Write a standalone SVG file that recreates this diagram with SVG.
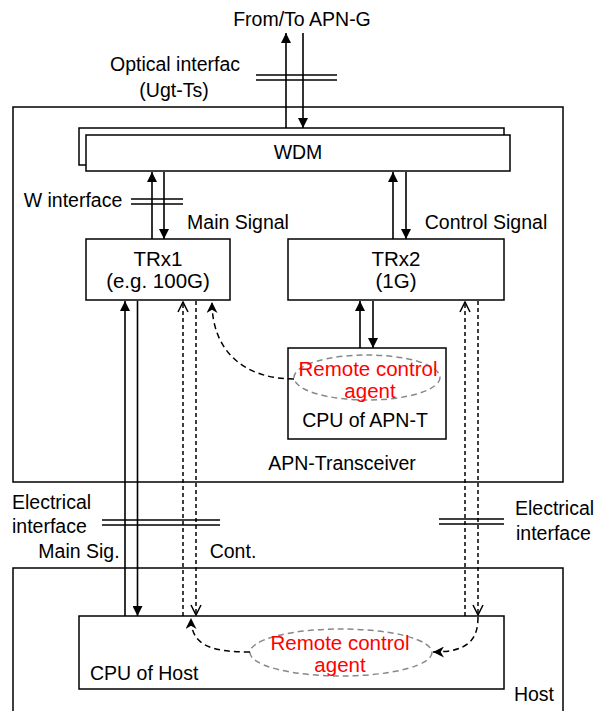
<svg xmlns="http://www.w3.org/2000/svg" width="595" height="711" viewBox="0 0 595 711">
<style>
.box{fill:#fff;stroke:#000;stroke-width:1.5}
.frame{fill:none;stroke:#000;stroke-width:1.5}
.ln{stroke:#000;stroke-width:1.6;fill:none}
.dl{stroke:#000;stroke-width:1.5;fill:none;stroke-dasharray:4,3}
.cv{stroke:#000;stroke-width:1.5;fill:none;stroke-dasharray:6,4}
.el{fill:none;stroke:#888;stroke-width:1.5;stroke-dasharray:6,4}
.if{stroke:#000;stroke-width:1.5}
text{font-family:"Liberation Sans",Arial,sans-serif;font-size:19.5px;fill:#000}
.big{font-size:20.5px}
.red{fill:#f00;font-size:20.5px}
.m{text-anchor:middle}
</style>
<defs>
<marker id="arr" viewBox="0 0 10 10" refX="10" refY="5" markerWidth="10" markerHeight="10" markerUnits="userSpaceOnUse" orient="auto">
<path d="M0,0 L10,5 L0,10 z" fill="#000"/>
</marker>
<marker id="open" viewBox="-1 -1 12 12" refX="10" refY="5" markerWidth="12" markerHeight="12" markerUnits="userSpaceOnUse" orient="auto">
<path d="M0,0 L10,5 L0,10" fill="none" stroke="#000" stroke-width="1.5"/>
</marker>
<marker id="notch" viewBox="0 0 10 10" refX="10" refY="5" markerWidth="11" markerHeight="11" markerUnits="userSpaceOnUse" orient="auto">
<path d="M0,0 L10,5 L0,10 L3,5 z" fill="#000"/>
</marker>
</defs>

<g id="apn-transceiver">
<rect class="frame" x="13" y="107" width="550" height="375"/>
<text class="m" x="342" y="470">APN-Transceiver</text>
</g>
<g id="host">
<rect class="frame" x="13" y="568" width="550" height="200"/>
<text class="m" x="534" y="701">Host</text>
</g>

<g id="wdm">
<rect class="box" x="79" y="128" width="425" height="37"/>
<rect class="box" x="86" y="135" width="424" height="36"/>
<text class="m" x="298" y="159">WDM</text>
</g>

<g id="trx1">
<rect class="box" x="86" y="239" width="144" height="61"/>
<text class="m big" x="158" y="266">TRx1</text>
<text class="m big" x="158" y="288">(e.g. 100G)</text>
</g>

<g id="trx2">
<rect class="box" x="288" y="239" width="216" height="61"/>
<text class="m big" x="396" y="266">TRx2</text>
<text class="m big" x="396" y="288">(1G)</text>
</g>

<g id="cpu-apn-t">
<rect class="box" x="288" y="348" width="158" height="91"/>
<ellipse class="el" cx="367" cy="377.5" rx="73" ry="22.5"/>
<text class="m red" x="368" y="376">Remote control</text>
<text class="m red" x="370" y="398">agent</text>
<text class="m" x="365" y="427">CPU of APN-T</text>
</g>

<g id="cpu-host">
<rect class="box" x="79" y="616" width="425" height="73"/>
<ellipse class="el" cx="341" cy="652.5" rx="91" ry="23.5"/>
<text class="m red" x="340" y="650">Remote control</text>
<text class="m red" x="340" y="672">agent</text>
<text x="90" y="680">CPU of Host</text>
</g>

<g id="connectors">
<line class="ln" x1="286" y1="128" x2="286" y2="33" marker-end="url(#arr)"/>
<line class="ln" x1="303" y1="33" x2="303" y2="128" marker-end="url(#arr)"/>
<line class="ln" x1="152" y1="239" x2="152" y2="172" marker-end="url(#arr)"/>
<line class="ln" x1="164" y1="172" x2="164" y2="239" marker-end="url(#arr)"/>
<line class="ln" x1="393" y1="239" x2="393" y2="172" marker-end="url(#arr)"/>
<line class="ln" x1="406" y1="172" x2="406" y2="239" marker-end="url(#arr)"/>
<line class="ln" x1="360" y1="348" x2="360" y2="301" marker-end="url(#arr)"/>
<line class="ln" x1="373" y1="301" x2="373" y2="348" marker-end="url(#arr)"/>
<line class="ln" x1="125" y1="616" x2="125" y2="301" marker-end="url(#arr)"/>
<line class="ln" x1="137.5" y1="301" x2="137.5" y2="616" marker-end="url(#arr)"/>
<line class="dl" x1="183" y1="616" x2="183" y2="302" marker-end="url(#open)"/>
<line class="dl" x1="196" y1="301" x2="196" y2="615" marker-end="url(#open)"/>
<line class="dl" x1="465" y1="616" x2="465" y2="302" marker-end="url(#open)"/>
<line class="dl" x1="478" y1="301" x2="478" y2="615" marker-end="url(#open)"/>
<path class="cv" d="M294,379 C245,379 212,352 212,302" marker-end="url(#notch)"/>
<path class="cv" d="M250,652 C210,652 191,645 191,618" marker-end="url(#notch)"/>
<path class="cv" d="M478,617 C478,640 468,652 433,652" marker-end="url(#notch)"/>
</g>

<g id="interfaces">
<line class="if" x1="256" y1="75" x2="337" y2="75"/>
<line class="if" x1="256" y1="80" x2="337" y2="80"/>
<line class="if" x1="131" y1="199" x2="183" y2="199"/>
<line class="if" x1="131" y1="204" x2="183" y2="204"/>
<line class="if" x1="102" y1="520" x2="220" y2="520"/>
<line class="if" x1="102" y1="525" x2="220" y2="525"/>
<line class="if" x1="439" y1="519" x2="504" y2="519"/>
<line class="if" x1="439" y1="524" x2="504" y2="524"/>
</g>

<g id="labels">
<text class="m" x="302" y="26">From/To APN-G</text>
<text class="m" x="175" y="71">Optical interfac</text>
<text class="m" x="174" y="97">(Ugt-Ts)</text>
<text class="m" x="73" y="207">W interface</text>
<text class="m" x="238" y="229">Main Signal</text>
<text class="m" x="486" y="229">Control Signal</text>
<text x="12" y="509">Electrical</text>
<text x="12" y="533">interface</text>
<text class="m" x="79" y="558">Main Sig.</text>
<text class="m" x="233" y="558">Cont.</text>
<text x="515" y="515">Electrical</text>
<text x="516" y="540">interface</text>
</g>
</svg>
